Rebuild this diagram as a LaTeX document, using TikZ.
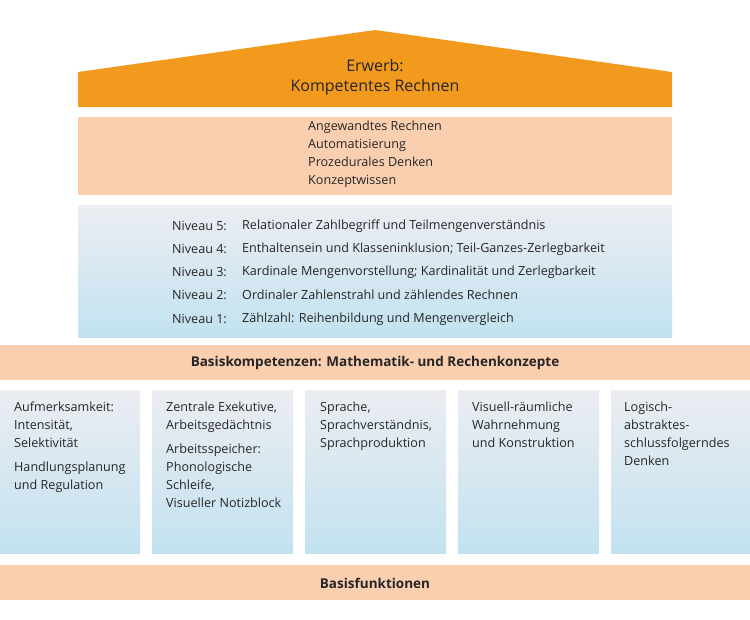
\documentclass[tikz,border=0pt]{standalone}
\usepackage{fontspec}
\setmainfont{Open Sans}
\begin{document}
\begin{tikzpicture}[x=1pt,y=-1pt,
  txt/.style={anchor=west,inner sep=0,font=\fontsize{12.6}{18}\selectfont,text=black!85}]
\definecolor{peach}{HTML}{F9CFB0}
\definecolor{orng}{HTML}{F29A1E}
\definecolor{topg}{HTML}{ECEDF2}
\definecolor{botb}{HTML}{C2E2F0}
\useasboundingbox (0,0) rectangle (750,619);
\fill[white] (0,0) rectangle (750,619);
\fill[orng] (78,72) -- (375,30) -- (672,72) -- (672,107) -- (78,107) -- cycle;
\node[font=\fontsize{16}{20}\selectfont,align=center,text=black!85] (roof) at (375,77) {Erwerb:\\Kompetentes Rechnen};
\fill[peach] (78,117) rectangle (672,195);
\node[txt,align=left,anchor=north west] (komp) at (308,121) {Angewandtes Rechnen\\Automatisierung\\Prozedurales Denken\\Konzeptwissen};
\shade[top color=topg,bottom color=botb] (78,205) rectangle (672,337);
\foreach \n/\t/\y in {5/Relationaler Zahlbegriff und Teilmengenverständnis/226,
 4/Enthaltensein und Klasseninklusion; Teil-Ganzes-Zerlegbarkeit/249,
 3/Kardinale Mengenvorstellung; Kardinalität und Zerlegbarkeit/272,
 2/Ordinaler Zahlenstrahl und zählendes Rechnen/295,
 1/Zählzahl: Reihenbildung und Mengenvergleich/319}{
 \node[txt] (n\n) at (172,\y) {Niveau \n:};
 \node[txt] (d\n) at (242,\y) {\t};
}
\fill[peach] (0,345) rectangle (750,380);
\node[font=\fontsize{13.5}{16}\selectfont\bfseries,text=black!85] (bk) at (375,363) {Basiskompetenzen: Mathematik- und Rechenkonzepte};
\foreach \i/\a/\b in {1/0/140,2/152/293,3/305/446,4/458/599,5/611/750}{
 \shade[top color=topg,bottom color=botb] (\a,390) rectangle (\b,553);
}
\node[txt,anchor=north west,align=left] (c1) at (14,402) {Aufmerksamkeit:\\Intensität,\\Selektivität\\[6pt]Handlungsplanung\\und Regulation};
\node[txt,anchor=north west,align=left] (c2) at (166,402) {Zentrale Exekutive,\\Arbeitsgedächtnis\\[6pt]Arbeitsspeicher:\\Phonologische\\Schleife,\\Visueller Notizblock};
\node[txt,anchor=north west,align=left] (c3) at (320,402) {Sprache,\\Sprachverständnis,\\Sprachproduktion};
\node[txt,anchor=north west,align=left] (c4) at (472,402) {Visuell-räumliche\\Wahrnehmung\\und Konstruktion};
\node[txt,anchor=north west,align=left] (c5) at (624,402) {Logisch-\\abstraktes-\\schlussfolgerndes\\Denken};
\fill[peach] (0,565) rectangle (750,600);
\node[font=\fontsize{13.5}{16}\selectfont\bfseries,text=black!85] (bf) at (375,583) {Basisfunktionen};
\end{tikzpicture}
\end{document}
